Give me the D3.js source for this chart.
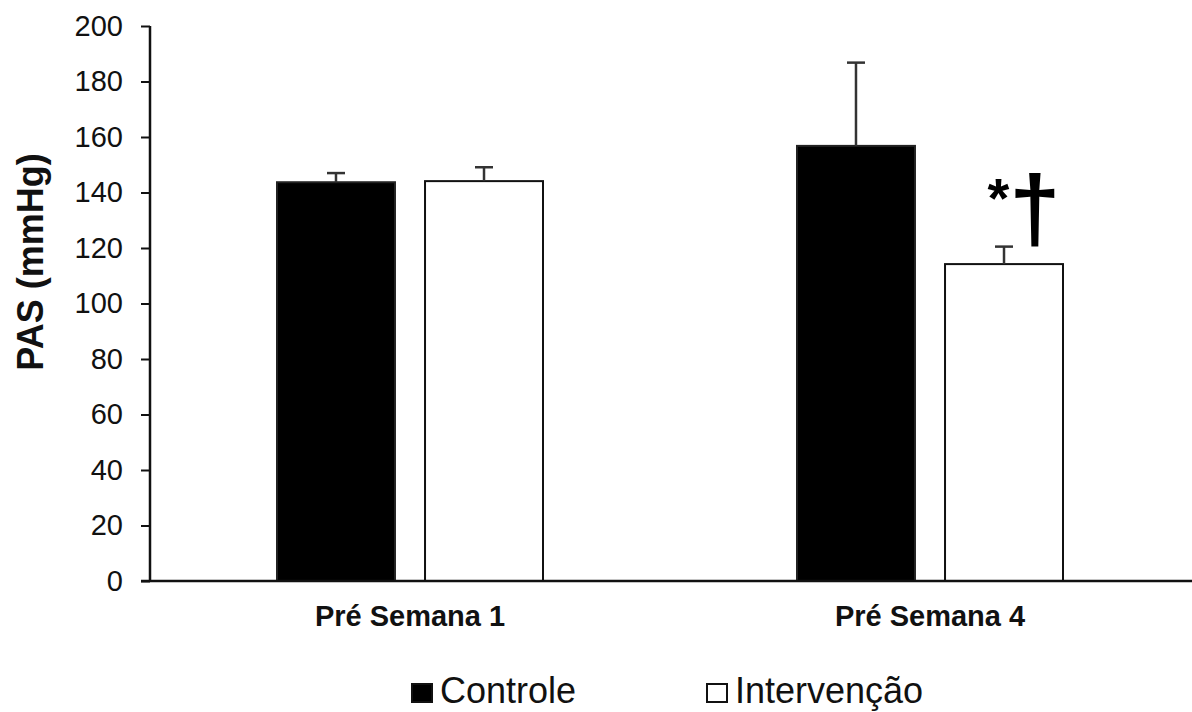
<!DOCTYPE html>
<html>
<head>
<meta charset="utf-8">
<script src="https://cdn.jsdelivr.net/npm/d3@7"></script>
<style>
  html, body { margin: 0; padding: 0; background: #fff; }
  svg { display: block; font-family: "Liberation Sans", Arial, sans-serif; }
</style>
</head>
<body>
<svg id="chart" width="1192" height="712"></svg>
<script>
const categories = ["Pré Semana 1", "Pré Semana 4"];
const series = ["Controle", "Intervenção"];
const controleValues = [143.7, 156.8];
const controleErrors = [3.3, 30];
const intervencaoValues = [144.1, 114.2];
const intervencaoErrors = [5, 6.3];
const yTicks = [0, 20, 40, 60, 80, 100, 120, 140, 160, 180, 200];
const annotationMarks = ["*", "†"];
const annotationCategory = "Pré Semana 4";
const annotationSeries = "Intervenção";

(function () {
const seriesValues = { "Controle": controleValues, "Intervenção": intervencaoValues };
const seriesErrors = { "Controle": controleErrors, "Intervenção": intervencaoErrors };
const seriesFill = { "Controle": "#000", "Intervenção": "#fff" };

const svg = d3.select("#chart");
const mLeft = 150, mRight = 1190, mTop = 26, mBottom = 581;

const y = d3.scaleLinear().domain([0, 200]).range([mBottom, mTop]);
const x0 = d3.scaleBand().domain(categories).range([mLeft, mRight]).padding(0);
const x1 = d3.scaleBand().domain(series).range([0, x0.bandwidth()])
  .paddingInner(0.203).paddingOuter(0.858);

const data = [];
categories.forEach((c, i) => series.forEach(s => data.push({
  cat: c, ser: s, v: seriesValues[s][i], e: seriesErrors[s][i]
})));

// bars
svg.append("g").selectAll("rect").data(data).join("rect")
  .attr("x", d => x0(d.cat) + x1(d.ser))
  .attr("y", d => y(d.v))
  .attr("width", x1.bandwidth())
  .attr("height", d => y(0) - y(d.v))
  .attr("fill", d => seriesFill[d.ser])
  .attr("stroke", d => d.ser === "Controle" ? "#222" : "#111")
  .attr("stroke-width", 2);

// error bars (upper only)
const eb = svg.append("g").attr("stroke", "#333").attr("stroke-width", 2.5);
data.forEach(d => {
  const cx = x0(d.cat) + x1(d.ser) + x1.bandwidth() / 2;
  eb.append("line").attr("x1", cx).attr("x2", cx).attr("y1", y(d.v)).attr("y2", y(d.v + d.e));
  eb.append("line").attr("x1", cx - 9).attr("x2", cx + 9).attr("y1", y(d.v + d.e)).attr("y2", y(d.v + d.e));
});

// y axis
const yAxis = svg.append("g").attr("transform", `translate(${mLeft},0)`)
  .call(d3.axisLeft(y).tickValues(yTicks).tickSize(9).tickPadding(18).tickFormat(d3.format("d")));
yAxis.select(".domain").attr("stroke", "#111").attr("stroke-width", 2.5).attr("d", `M0,${mTop}V${mBottom}`);
yAxis.selectAll(".tick line").attr("stroke", "#111").attr("stroke-width", 2);
yAxis.selectAll(".tick text").attr("font-size", 29).attr("fill", "#111")
  .attr("font-family", "'Liberation Sans', Arial, sans-serif");

// x axis
const xAxis = svg.append("g").attr("transform", `translate(0,${mBottom})`)
  .call(d3.axisBottom(x0).tickSize(0).tickPadding(24));
xAxis.select(".domain").attr("stroke", "#111").attr("stroke-width", 2.5).attr("d", `M${mLeft - 9},0H1192`);
xAxis.selectAll(".tick text").attr("font-size", 29).attr("font-weight", "bold").attr("fill", "#111")
  .attr("font-family", "'Liberation Sans', Arial, sans-serif");

// y axis title
svg.append("text")
  .attr("transform", "translate(43,262) rotate(-90)")
  .attr("text-anchor", "middle")
  .attr("font-size", 36).attr("font-weight", "bold").attr("fill", "#111")
  .text("PAS (mmHg)");

// annotation (single text element with two differently sized marks)
{
  const d = data.find(r => r.cat === annotationCategory && r.ser === annotationSeries);
  const cx = x0(d.cat) + x1(d.ser) + x1.bandwidth() / 2;
  const yTop = y(d.v + d.e);
  const t = svg.append("text")
    .attr("x", cx - 16.5).attr("y", yTop - 30)
    .attr("fill", "#000");
  t.append("tspan").attr("font-size", 56).attr("font-weight", "bold").text(annotationMarks[0]);
  t.append("tspan").attr("dy", 23).attr("font-size", 92).attr("font-weight", "bold").text(annotationMarks[1]);
}

// legend
const legend = svg.append("g");
const legendX = [412, 707];
series.forEach((s, i) => {
  legend.append("rect").attr("x", legendX[i]).attr("y", 684).attr("width", 20).attr("height", 18)
    .attr("fill", seriesFill[s]).attr("stroke", "#111").attr("stroke-width", 2);
  legend.append("text").attr("x", legendX[i] + 28).attr("y", 703)
    .attr("font-size", 36).attr("fill", "#111").text(s);
});
})();
</script>
</body>
</html>
